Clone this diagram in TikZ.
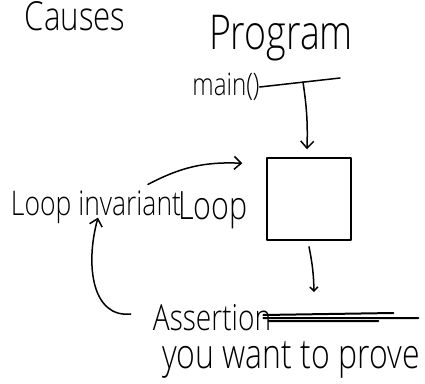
\documentclass[tikz,border=0pt]{standalone}
\usepackage{fontspec}
\newfontfamily\hand[FakeStretch=0.78]{Open Sans Light}
\usetikzlibrary{arrows.meta,calc}
\begin{document}
\begin{tikzpicture}[x=1pt,y=-1pt,
  ink/.style={line width=1.5pt,line cap=round,line join=round},
  arr/.style={ink,-{Straight Barb[length=7pt,width=13pt,line width=1.5pt]}},
  lbl/.style={inner sep=0pt,font=\hand}]
\useasboundingbox (0,0) rectangle (425,383);
\node[lbl,anchor=north,font=\hand\fontsize{40}{42}\selectfont] (causes) at (75,1.5) {Causes};
\node[lbl,font=\hand\fontsize{48}{50}\selectfont] (prog) at (281,38) {Program};
\node[lbl,font=\hand\fontsize{31}{33}\selectfont] (main) at (226,87) {main()};
\coordinate (mend) at (340,78);
\draw[ink] (main.east) -- (mend);
\coordinate (tap) at (303,82);
\node[ink,draw,minimum width=84pt,minimum height=82pt] (box) at (309,199) {};
\draw[arr] (tap) to[bend left=5] ($(box.north)+(-2,-8)$);
\node[lbl,font=\hand\fontsize{34}{36}\selectfont] (inv) at (96,207) {Loop invariant};
\node[lbl,font=\hand\fontsize{39}{41}\selectfont] (loop) at (213,210) {Loop};
\draw[arr] ($(inv.north)+(52,-6)$) to[bend left=15] ($(box.north west)+(-24,6)$);
\node[lbl,font=\hand\fontsize{36}{38}\selectfont] (assert) at (212,318) {Assertion};
\draw[ink,line width=2pt] ($(assert.east)+(-8,-3)$) -- ++(130,-2) ($(assert.east)+(-8,0)$) -- ++(155,0) ($(assert.east)+(-3,3)$) -- ++(110,0);
\node[lbl,font=\hand\fontsize{41}{43}\selectfont] (prove) at (291,360) {you want to prove};
\coordinate (a2) at (314,292);
\draw[arr,-{Straight Barb[length=4pt,width=8pt,line width=1.5pt]}] ($(box.south)+(0,6)$) to[bend left=5] (a2);
\draw[arr] ($(assert.west)+(-22,-4)$) .. controls (92,318) and (85,265) .. ($(inv.south)+(2,-6)$);
\end{tikzpicture}
\end{document}
